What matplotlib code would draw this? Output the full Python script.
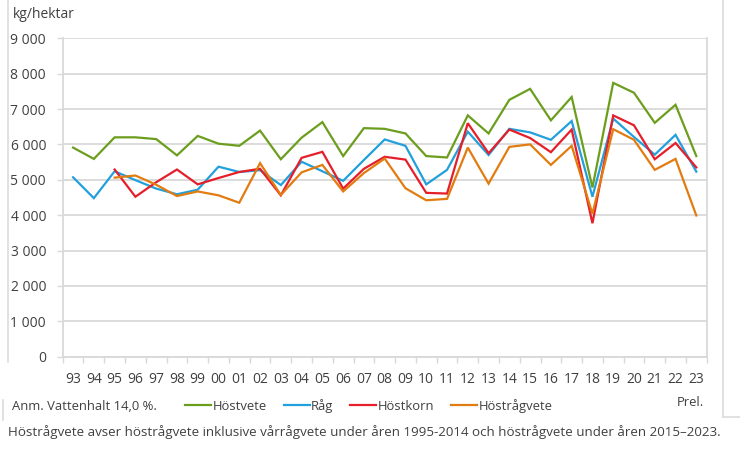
import matplotlib
matplotlib.use("Agg")
import matplotlib.pyplot as plt
from matplotlib.lines import Line2D
import numpy as np

# years 1993-2023
years = ["93", "94", "95", "96", "97", "98", "99", "00", "01", "02", "03", "04", "05", "06", "07",
         "08", "09", "10", "11", "12", "13", "14", "15", "16", "17", "18", "19", "20", "21", "22", "23"]

hostvete = [5910, 5590, 6200, 6200, 6150, 5690, 6240, 6020, 5960, 6390, 5580, 6190, 6630, 5670, 6460,
            6440, 6310, 5670, 5630, 6820, 6310, 7260, 7570, 6680, 7340, 4780, 7740, 7460, 6610, 7120, 5670]
rag = [5070, 4480, 5240, 4990, 4750, 4590, 4720, 5370, 5220, 5270, 4850, 5510, 5240, 4970, 5560,
       6140, 5960, 4870, 5280, 6360, 5700, 6440, 6340, 6130, 6660, 4520, 6730, 6210, 5710, 6270, 5230]
hostkorn = [None, None, 5290, 4520, 4930, 5290, 4870, 5050, 5220, 5310, 4560, 5620, 5790, 4750, 5310,
            5650, 5570, 4630, 4610, 6600, 5750, 6420, 6180, 5780, 6420, 3770, 6820, 6540, 5580, 6040, 5350]
hostragvete = [None, None, 5060, 5120, 4860, 4540, 4670, 4560, 4350, 5470, 4570, 5210, 5420, 4670, 5190,
               5600, 4760, 4420, 4460, 5910, 4890, 5930, 6000, 5420, 5960, 4040, 6430, 6130, 5280, 5590, 3990]

series_names = ["Höstvete", "Råg", "Höstkorn", "Höstrågvete"]
colors = ["#6c9e1e", "#22a0dc", "#e61e2a", "#e27c10"]

plt.rcParams['font.family'] = ['Open Sans', 'DejaVu Sans']
W, H = 740, 451
fig = plt.figure(figsize=(W/100, H/100), dpi=100)
ax = fig.add_axes([62.7/W, 1-356.6/H, (706.7-62.7)/W, (356.6-38.3)/H])

x = np.arange(len(years))
for vals, c in zip([hostvete, rag, hostkorn, hostragvete], colors):
    y = np.array([np.nan if v is None else v for v in vals], dtype=float)
    ax.plot(x, y, color=c, lw=1.6, solid_joinstyle='miter')

grid_c = "#d9d9d9"
txt_c = '#404040'
ax.set_xlim(-0.5, len(years)-0.5)
ax.set_ylim(0, 9000)
yt = np.arange(0, 9001, 1000)
ax.set_yticks(yt)
ax.set_yticklabels(["0" if v == 0 else f"{v//1000} 000" for v in yt])
ax.set_xticks(x)
ax.set_xticklabels(years)
ax.set_xticks(np.arange(-0.5, len(years), 1), minor=True)
ax.tick_params(axis='x', which='major', length=0, pad=11, labelsize=10, colors=txt_c)
ax.tick_params(axis='x', which='minor', length=4, color=grid_c, width=1)
ax.tick_params(axis='y', length=4, color=grid_c, width=1, pad=8, labelsize=10, colors=txt_c)
ax.yaxis.grid(True, color=grid_c, lw=1.3)
ax.set_axisbelow(True)
ax.spines['top'].set_visible(False)
for s in ['left', 'right', 'bottom']:
    ax.spines[s].set_color(grid_c)
    ax.spines[s].set_linewidth(1.3)

fs = 9.4
fig.text(13/W, 1-15/H, "kg/hektar", fontsize=10, color=txt_c, va='center', ha='left')
fig.text(12/W, 1-406/H, "Anm. Vattenhalt 14,0 %.", fontsize=fs, color=txt_c, va='center', ha='left')
fig.text(704/W, 1-403/H, "Prel.", fontsize=fs, color=txt_c, va='center', ha='right')
fig.text(8/W, 1-432/H, "Höstrågvete avser höstrågvete inklusive vårrågvete under åren 1995-2014 och höstrågvete under åren 2015–2023.",
         fontsize=9.65, color=txt_c, va='center', ha='left')

handles = [Line2D([], [], color=c, lw=1.6) for c in colors]
leg = fig.legend(handles, series_names, ncol=4, frameon=False, loc='center left',
                 bbox_to_anchor=(185/W, 1-406/H), borderpad=0, borderaxespad=0,
                 handlelength=2.0, handletextpad=0.1, columnspacing=1.3, fontsize=fs)
for t in leg.get_texts():
    t.set_color(txt_c)

# frame lines from the screenshot
fc = "#dcdcdc"
fig.add_artist(Line2D([8/W, 8/W], [1, 1-362/H], color=fc, lw=1.2))
fig.add_artist(Line2D([723/W, 723/W], [1, 1-417/H], color=fc, lw=1.2))
fig.add_artist(Line2D([723/W, 1], [1-417/H, 1-417/H], color=fc, lw=1.2))
fig.add_artist(Line2D([3/W, 3/W], [1-400/H, 1-420/H], color=fc, lw=1.2))

fig.savefig("out.png", dpi=100)
